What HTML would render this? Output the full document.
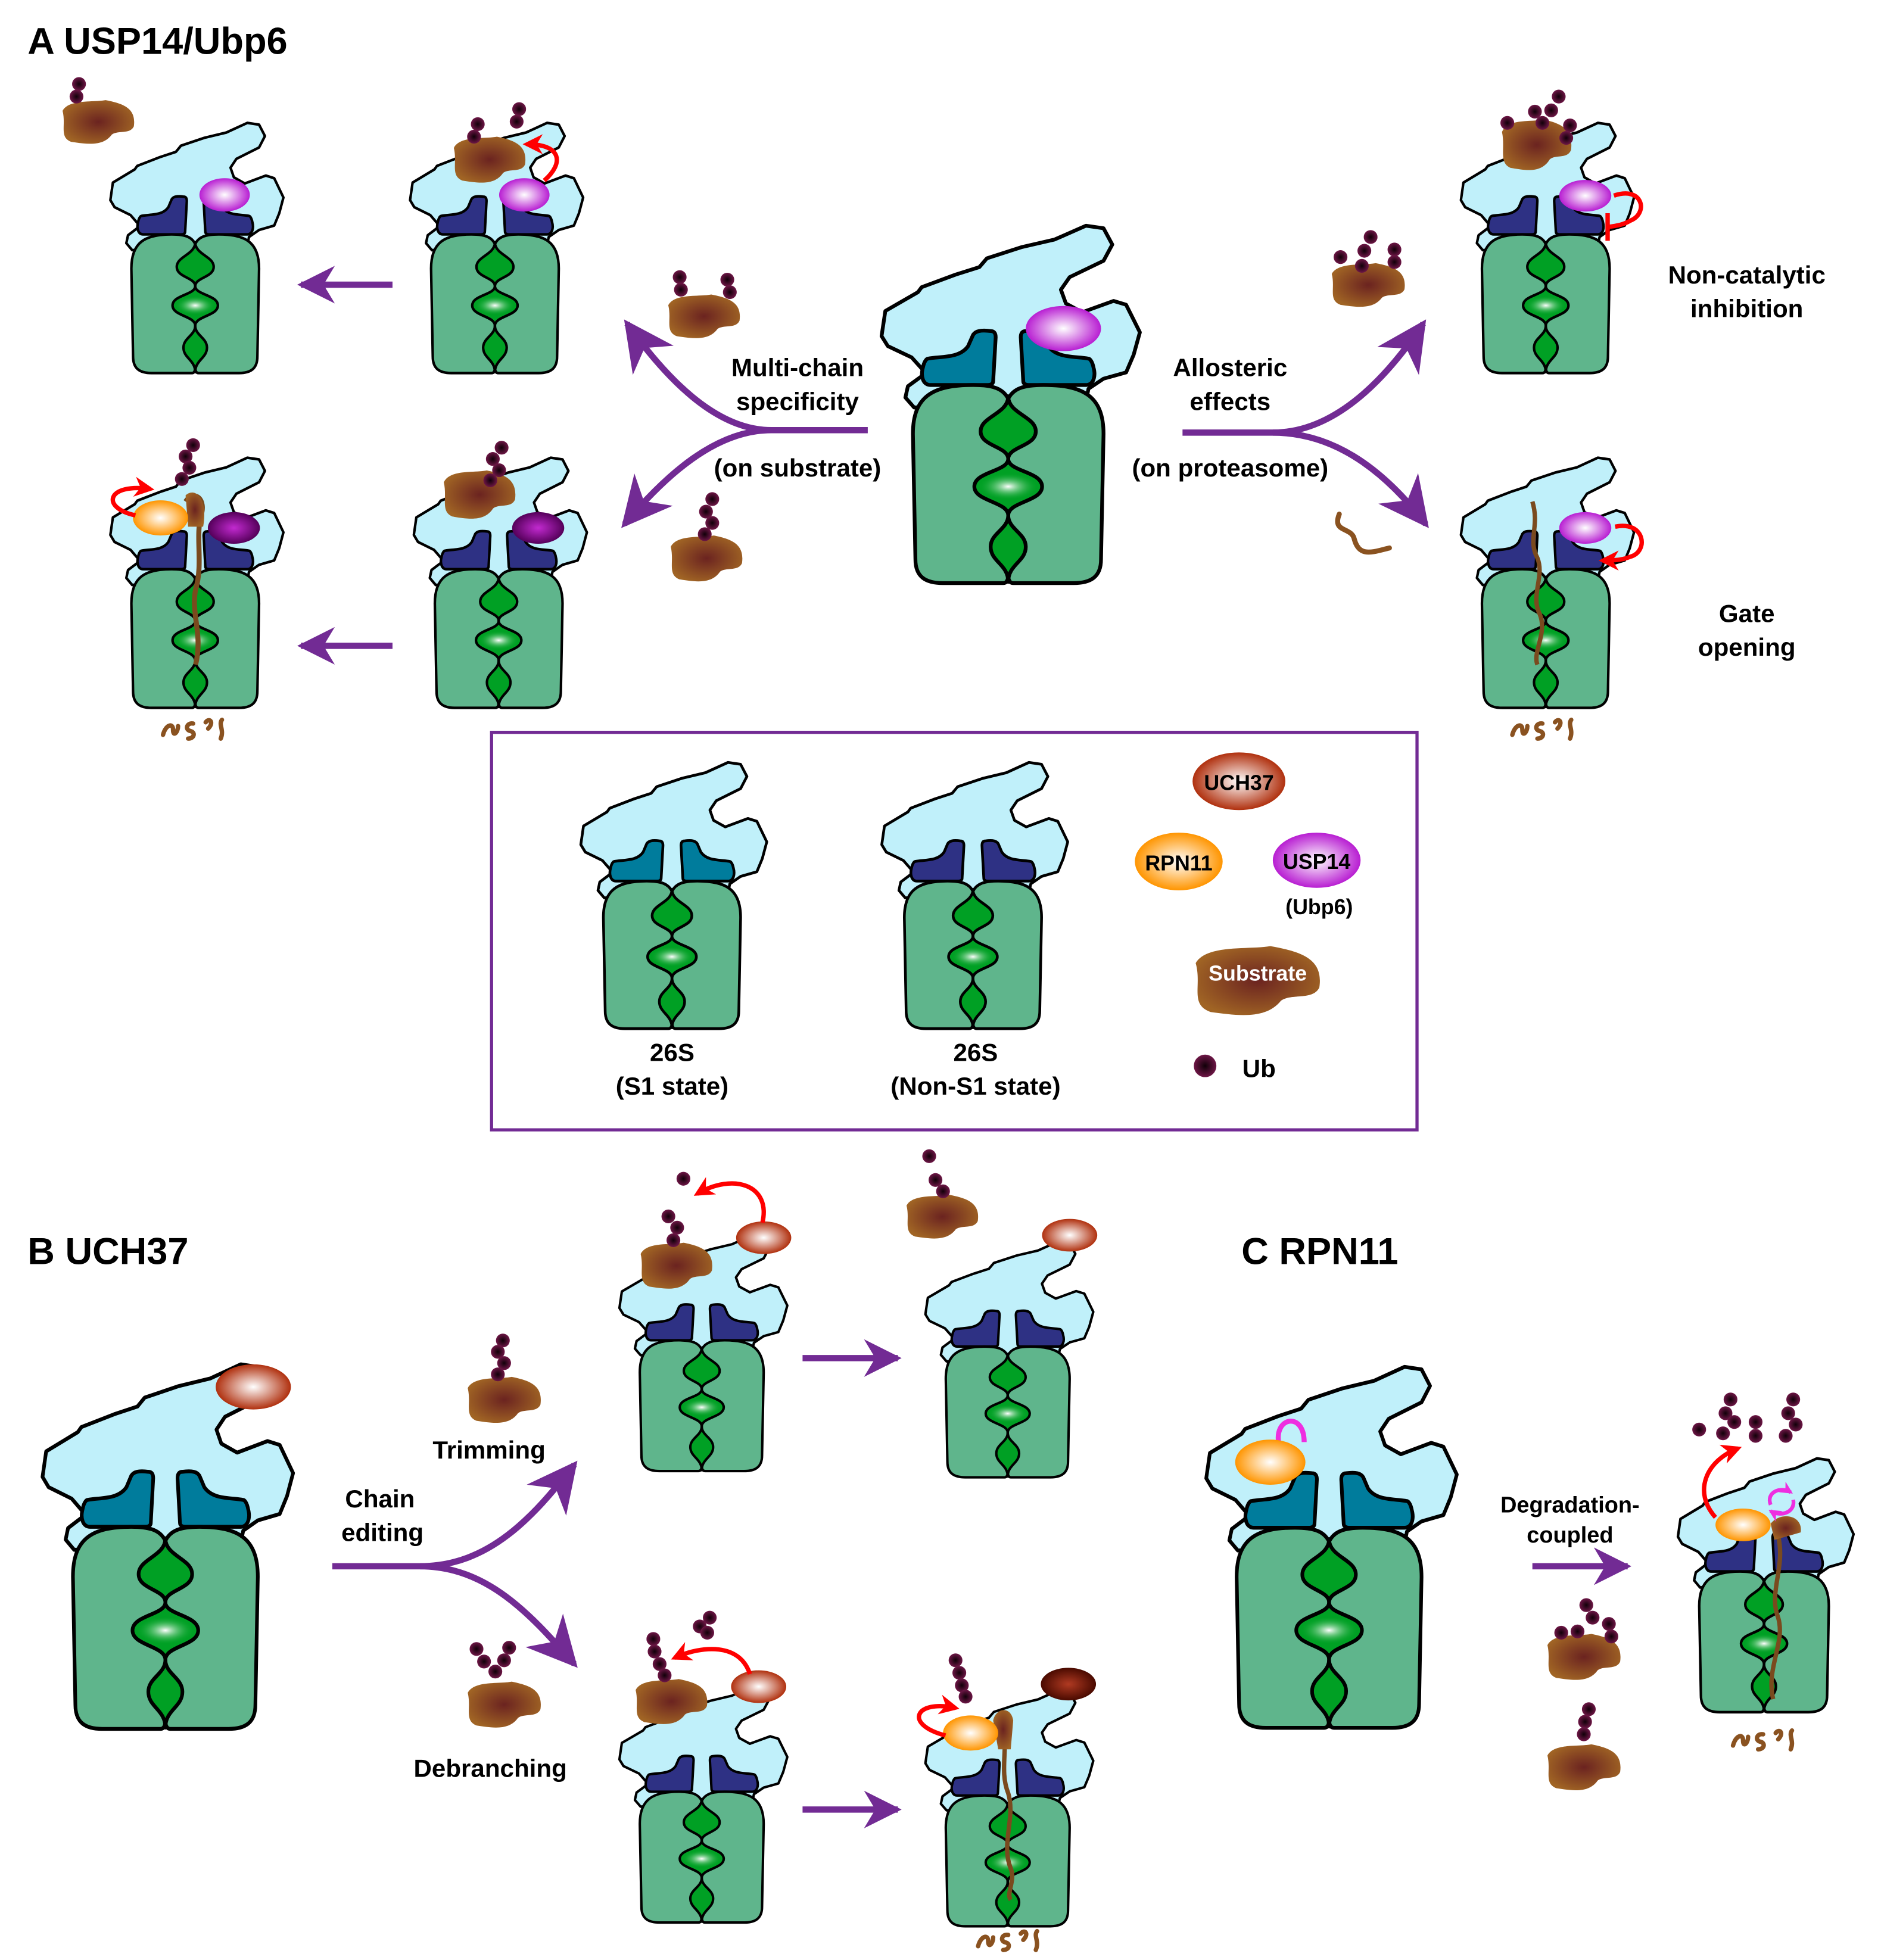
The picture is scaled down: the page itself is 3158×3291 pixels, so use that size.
<!DOCTYPE html>
<html><head><meta charset="utf-8"><style>
html,body{margin:0;padding:0;background:#fff}
svg{display:block}
text{font-family:"Liberation Sans",Arial,sans-serif;font-weight:bold;fill:#000}
</style></head><body>
<svg xmlns="http://www.w3.org/2000/svg" xmlns:xlink="http://www.w3.org/1999/xlink" width="3158" height="3291" viewBox="0 0 1500 1563" preserveAspectRatio="none">
<defs>
<radialGradient id="gSub" cx="50%" cy="50%" r="55%"><stop offset="0" stop-color="#6b2320"/><stop offset="1" stop-color="#a06424"/></radialGradient>
<radialGradient id="gUb" cx="50%" cy="50%" r="50%"><stop offset="0" stop-color="#100008"/><stop offset="1" stop-color="#6e1646"/></radialGradient>
<radialGradient id="gUsp" cx="50%" cy="50%" r="50%"><stop offset="0" stop-color="#ffffff"/><stop offset="1" stop-color="#b81ed2"/></radialGradient>
<radialGradient id="gUspD" cx="50%" cy="50%" r="50%"><stop offset="0" stop-color="#c22ad0"/><stop offset="1" stop-color="#55005a"/></radialGradient>
<radialGradient id="gRpn" cx="50%" cy="50%" r="50%"><stop offset="0" stop-color="#ffffff"/><stop offset="1" stop-color="#ff9500"/></radialGradient>
<radialGradient id="gUch" cx="50%" cy="50%" r="50%"><stop offset="0" stop-color="#ffffff"/><stop offset="1" stop-color="#b0300e"/></radialGradient>
<radialGradient id="gUchD" cx="50%" cy="50%" r="50%"><stop offset="0" stop-color="#b03a22"/><stop offset="1" stop-color="#4a0a00"/></radialGradient>
<radialGradient id="gMid" cx="50%" cy="50%" r="50%"><stop offset="0" stop-color="#ffffff"/><stop offset="1" stop-color="#00a024" stop-opacity="0"/></radialGradient>
<marker id="mP" markerUnits="userSpaceOnUse" markerWidth="40" markerHeight="40" viewBox="0 0 10 10" refX="9" refY="5" orient="auto"><path d="M0,0 L10,5 L0,10 L3,5 Z" fill="#722b94"/></marker>
<marker id="mS" markerUnits="userSpaceOnUse" markerWidth="30" markerHeight="30" viewBox="0 0 10 10" refX="9" refY="5" orient="auto"><path d="M0,0 L10,5 L0,10 L3,5 Z" fill="#722b94"/></marker>
<marker id="mR" markerUnits="userSpaceOnUse" markerWidth="16" markerHeight="16" viewBox="0 0 10 10" refX="8" refY="5" orient="auto"><path d="M0,0 L10,5 L0,10 L3,5 Z" fill="#f00"/></marker>
<marker id="mM" markerUnits="userSpaceOnUse" markerWidth="10" markerHeight="10" viewBox="0 0 10 10" refX="8" refY="5" orient="auto"><path d="M0,0 L10,5 L0,10 L3,5 Z" fill="#ee2ee0"/></marker>
<g id="half">
<path d="M104,138 C100,130 92,127 76,127 C44,127 28,136 28,166 L30,266 C30,280 38,285 52,285 L100,285 C103,285 104,282 104,278 Z" fill="#5fb58c" stroke="#000" stroke-width="3" stroke-linejoin="round"/>
</g>
<g id="atp"><path d="M40,106 C50,104 65,106 72,96 L76,87 C78,84 82,83 90,84 C93,84 94,86 94,89 L92,124 C92,126 90,127 88,127 L42,127 C36,127 34,120 36,113 C37,108 39,106 40,106 Z" stroke="#000" stroke-width="3"/></g>
<g id="P">
<path d="M29,145 L22,137 L24,128 L35,120 L36,115 L27,105 L8,96 L3,88 L6,68 L32,53 L35,49 L62,39 L81,33 L87,26 L115,17 L141,11 L166,0 L180,2 L187,15 L180,28 L153,41 L146,51 L150,62 L163,69 L188,60 L198,63 L209,85 L204,103 L198,117 L180,122 L168,130 L166,140 L104,140 Z" fill="#c0f0fa" stroke="#000" stroke-width="3" stroke-linejoin="round"/>
<use href="#atp" xlink:href="#atp"/>
<use href="#atp" xlink:href="#atp" transform="translate(208,0) scale(-1,1)"/>
<use href="#half" xlink:href="#half"/>
<use href="#half" xlink:href="#half" transform="translate(208,0) scale(-1,1)"/>
<path d="M104,136 C104,150 126,152 126,164 C126,176 104,176 104,186 C104,196 131,196 131,208 C131,220 104,220 104,231 C104,242 118,245 118,256 C118,268 104,270 104,284 C104,270 90,268 90,256 C90,245 104,242 104,231 C104,220 77,220 77,208 C77,196 104,196 104,186 C104,176 82,176 82,164 C82,152 104,150 104,136 Z" fill="#00a024" stroke="#000" stroke-width="3" stroke-linejoin="round"/>
<ellipse cx="104" cy="208" rx="24" ry="11" fill="url(#gMid)"/>
</g>
<path id="blob" d="M5,12 C10,2 30,5 40,3 C55,6 65,10 63,25 C60,32 50,28 45,32 C38,42 25,40 12,38 C2,34 8,24 5,12 Z" fill="url(#gSub)"/>
<g id="frag" fill="none" stroke="#8a5220" stroke-width="3.5" stroke-linecap="round">
<path d="M0,14 C2,6 8,4 8,10 C8,16 12,12 12,7"/><path d="M24,5 C19,4 17,10 22,11 C26,12 25,17 20,17"/><path d="M34,4 C37,0 41,4 36,9"/><path d="M47,2 C44,6 49,10 46,17"/>
</g>
<circle id="ub" r="5.5" fill="url(#gUb)"/>
</defs>

<text x="22" y="43" font-size="30">A USP14/Ubp6</text>

<use href="#blob" xlink:href="#blob" transform="translate(45,77) scale(.98,.95)"/>
<use href="#ub" xlink:href="#ub" x="63" y="67"/><use href="#ub" xlink:href="#ub" x="61" y="77"/>
<g transform="translate(86,98) scale(.67,.70)" fill="#2e3184"><use href="#P" xlink:href="#P"/><ellipse cx="139" cy="82" rx="30" ry="19" fill="url(#gUsp)"/></g>

<g transform="translate(325,98) scale(.67,.70)" fill="#2e3184"><use href="#P" xlink:href="#P"/><ellipse cx="139" cy="82" rx="30" ry="19" fill="url(#gUsp)"/></g>
<use href="#blob" xlink:href="#blob" transform="translate(357,106) scale(.98,1)"/>
<use href="#ub" xlink:href="#ub" x="381" y="99"/><use href="#ub" xlink:href="#ub" x="378" y="109"/>
<use href="#ub" xlink:href="#ub" x="414" y="87"/><use href="#ub" xlink:href="#ub" x="412" y="97"/>
<path d="M434,144 C450,130 448,115 420,115" fill="none" stroke="#f00" stroke-width="3.5" marker-end="url(#mR)"/>

<path d="M313,227 L240,227" stroke="#722b94" stroke-width="5" marker-end="url(#mS)"/>
<path d="M313,515 L240,515" stroke="#722b94" stroke-width="5" marker-end="url(#mS)"/>

<g transform="translate(86,365) scale(.67,.70)" fill="#2e3184"><use href="#P" xlink:href="#P"/><ellipse cx="150" cy="80" rx="31" ry="18" fill="url(#gUspD)"/></g>
<path d="M148,400 C155,390 165,398 160,412 C156,430 162,450 156,470 C152,490 162,505 156,530" fill="none" stroke="#7a4a1e" stroke-width="4"/>
<path d="M148,395 C156,388 166,398 162,420 L150,420 Z" fill="url(#gSub)"/>
<ellipse cx="128" cy="413" rx="22" ry="14" fill="url(#gRpn)"/>
<path d="M108,411 C80,405 85,385 120,390" fill="none" stroke="#f00" stroke-width="3.5" marker-end="url(#mR)"/>
<use href="#ub" xlink:href="#ub" x="154" y="355"/><use href="#ub" xlink:href="#ub" x="148" y="364"/><use href="#ub" xlink:href="#ub" x="151" y="373"/><use href="#ub" xlink:href="#ub" x="145" y="382"/>
<use href="#frag" xlink:href="#frag" transform="translate(130,572)"/>

<g transform="translate(328,365) scale(.67,.70)" fill="#2e3184"><use href="#P" xlink:href="#P"/><ellipse cx="151" cy="80" rx="31" ry="18" fill="url(#gUspD)"/></g>
<use href="#blob" xlink:href="#blob" transform="translate(349,372) scale(.98,1.05)"/>
<use href="#ub" xlink:href="#ub" x="400" y="357"/><use href="#ub" xlink:href="#ub" x="393" y="366"/><use href="#ub" xlink:href="#ub" x="398" y="375"/><use href="#ub" xlink:href="#ub" x="391" y="383"/>

<g transform="translate(700,180)" fill="#007c9c"><use href="#P" xlink:href="#P"/><ellipse cx="148" cy="82" rx="30" ry="18" fill="url(#gUsp)"/></g>

<path d="M692,343 L615,343 C570,343 530,300 500,258" fill="none" stroke="#722b94" stroke-width="5" marker-end="url(#mP)"/>
<path d="M615,343 C570,343 530,380 498,418" fill="none" stroke="#722b94" stroke-width="5" marker-end="url(#mP)"/>
<text x="636" y="300" font-size="20" text-anchor="middle">Multi-chain</text>
<text x="636" y="327" font-size="20" text-anchor="middle">specificity</text>
<text x="636" y="380" font-size="20" text-anchor="middle">(on substrate)</text>
<use href="#blob" xlink:href="#blob" transform="translate(528,232) scale(.98,.95)"/>
<use href="#ub" xlink:href="#ub" x="542" y="221"/><use href="#ub" xlink:href="#ub" x="543" y="231"/><use href="#ub" xlink:href="#ub" x="580" y="223"/><use href="#ub" xlink:href="#ub" x="582" y="233"/>
<use href="#blob" xlink:href="#blob" transform="translate(530,424) scale(.98,1)"/>
<use href="#ub" xlink:href="#ub" x="568" y="398"/><use href="#ub" xlink:href="#ub" x="563" y="408"/><use href="#ub" xlink:href="#ub" x="568" y="417"/><use href="#ub" xlink:href="#ub" x="562" y="426"/>

<path d="M943,345 L1015,345 C1060,345 1100,310 1135,258" fill="none" stroke="#722b94" stroke-width="5" marker-end="url(#mP)"/>
<path d="M1015,345 C1060,345 1100,370 1137,418" fill="none" stroke="#722b94" stroke-width="5" marker-end="url(#mP)"/>
<text x="981" y="300" font-size="20" text-anchor="middle">Allosteric</text>
<text x="981" y="327" font-size="20" text-anchor="middle">effects</text>
<text x="981" y="380" font-size="20" text-anchor="middle">(on proteasome)</text>
<use href="#blob" xlink:href="#blob" transform="translate(1057,207) scale(1,.95)"/>
<use href="#ub" xlink:href="#ub" x="1069" y="205"/><use href="#ub" xlink:href="#ub" x="1086" y="212"/><use href="#ub" xlink:href="#ub" x="1088" y="200"/><use href="#ub" xlink:href="#ub" x="1093" y="189"/><use href="#ub" xlink:href="#ub" x="1112" y="199"/><use href="#ub" xlink:href="#ub" x="1112" y="209"/>
<path d="M1068,410 C1062,425 1078,420 1080,430 C1084,445 1095,440 1108,437" fill="none" stroke="#8a5220" stroke-width="4" stroke-linecap="round"/>

<g transform="translate(1163,98) scale(.67,.70)" fill="#2e3184"><use href="#P" xlink:href="#P"/><ellipse cx="151" cy="83" rx="31" ry="18" fill="url(#gUsp)"/></g>
<use href="#blob" xlink:href="#blob" transform="translate(1193,92) scale(.95,1.1)"/>
<use href="#ub" xlink:href="#ub" x="1202" y="98"/><use href="#ub" xlink:href="#ub" x="1224" y="89"/><use href="#ub" xlink:href="#ub" x="1243" y="77"/><use href="#ub" xlink:href="#ub" x="1237" y="88"/><use href="#ub" xlink:href="#ub" x="1230" y="98"/><use href="#ub" xlink:href="#ub" x="1252" y="100"/><use href="#ub" xlink:href="#ub" x="1249" y="110"/>
<path d="M1287,156 C1310,148 1315,170 1300,176 C1295,179 1290,180 1282,181" fill="none" stroke="#f00" stroke-width="3.5"/>
<path d="M1282,170 L1282,192" stroke="#f00" stroke-width="3.5"/>
<text x="1393" y="226" font-size="20" text-anchor="middle">Non-catalytic</text>
<text x="1393" y="253" font-size="20" text-anchor="middle">inhibition</text>

<g transform="translate(1163,365) scale(.67,.70)" fill="#2e3184"><use href="#P" xlink:href="#P"/><ellipse cx="151" cy="80" rx="31" ry="18" fill="url(#gUsp)"/></g>
<path d="M1222,400 C1228,420 1218,430 1226,445 C1232,460 1220,475 1228,490 C1234,505 1222,520 1226,530" fill="none" stroke="#7a4a1e" stroke-width="3.5"/>
<path d="M1288,420 C1312,415 1315,440 1300,444 C1295,446 1290,447 1278,447" fill="none" stroke="#f00" stroke-width="3.5" marker-end="url(#mR)"/>
<use href="#frag" xlink:href="#frag" transform="translate(1206,572)"/>
<text x="1393" y="496" font-size="20" text-anchor="middle">Gate</text>
<text x="1393" y="523" font-size="20" text-anchor="middle">opening</text>

<rect x="392" y="584" width="738" height="317" fill="none" stroke="#722b94" stroke-width="2.5"/>
<g transform="translate(461,608) scale(.72,.745)" fill="#007c9c"><use href="#P" xlink:href="#P"/></g>
<g transform="translate(701,608) scale(.72,.745)" fill="#2e3184"><use href="#P" xlink:href="#P"/></g>
<text x="536" y="846" font-size="20" text-anchor="middle">26S</text>
<text x="536" y="873" font-size="20" text-anchor="middle">(S1 state)</text>
<text x="778" y="846" font-size="20" text-anchor="middle">26S</text>
<text x="778" y="873" font-size="20" text-anchor="middle">(Non-S1 state)</text>
<ellipse cx="988" cy="623" rx="37" ry="23" fill="url(#gUch)"/>
<text x="988" y="630" font-size="17" text-anchor="middle">UCH37</text>
<ellipse cx="940" cy="687" rx="35" ry="23" fill="url(#gRpn)"/>
<text x="940" y="694" font-size="17" text-anchor="middle">RPN11</text>
<ellipse cx="1050" cy="686" rx="35" ry="22" fill="url(#gUsp)"/>
<text x="1050" y="693" font-size="17" text-anchor="middle">USP14</text>
<text x="1052" y="729" font-size="17" text-anchor="middle">(Ubp6)</text>
<use href="#blob" xlink:href="#blob" transform="translate(945,750) scale(1.7,1.5)"/>
<text x="1003" y="782" font-size="17" text-anchor="middle" style="fill:#fff">Substrate</text>
<circle cx="961" cy="850" r="9" fill="url(#gUb)"/>
<text x="1004" y="859" font-size="20" text-anchor="middle">Ub</text>

<text x="22" y="1008" font-size="30">B UCH37</text>
<g transform="translate(31,1088) scale(.97,1.02)" fill="#007c9c"><use href="#P" xlink:href="#P"/></g>
<ellipse cx="202" cy="1106" rx="30" ry="18" fill="url(#gUch)"/>
<path d="M265,1249 L335,1249 C390,1249 425,1210 458,1168" fill="none" stroke="#722b94" stroke-width="5" marker-end="url(#mP)"/>
<path d="M335,1249 C390,1249 425,1290 458,1327" fill="none" stroke="#722b94" stroke-width="5" marker-end="url(#mP)"/>
<text x="303" y="1202" font-size="20" text-anchor="middle">Chain</text>
<text x="305" y="1229" font-size="20" text-anchor="middle">editing</text>
<text x="390" y="1163" font-size="20" text-anchor="middle">Trimming</text>
<text x="391" y="1417" font-size="20" text-anchor="middle">Debranching</text>
<use href="#blob" xlink:href="#blob" transform="translate(368,1095) scale(1,1)"/>
<use href="#ub" xlink:href="#ub" x="401" y="1069"/><use href="#ub" xlink:href="#ub" x="397" y="1078"/><use href="#ub" xlink:href="#ub" x="402" y="1087"/><use href="#ub" xlink:href="#ub" x="397" y="1096"/>
<use href="#blob" xlink:href="#blob" transform="translate(368,1338) scale(1,1)"/>
<use href="#ub" xlink:href="#ub" x="380" y="1315"/><use href="#ub" xlink:href="#ub" x="386" y="1325"/><use href="#ub" xlink:href="#ub" x="395" y="1333"/><use href="#ub" xlink:href="#ub" x="402" y="1324"/><use href="#ub" xlink:href="#ub" x="406" y="1314"/>

<g transform="translate(492,985) scale(.65,.66)" fill="#2e3184"><use href="#P" xlink:href="#P"/></g>
<ellipse cx="609" cy="987" rx="22" ry="13" fill="url(#gUch)"/>
<use href="#blob" xlink:href="#blob" transform="translate(506,988) scale(.98,1)"/>
<use href="#ub" xlink:href="#ub" x="533" y="970"/><use href="#ub" xlink:href="#ub" x="540" y="979"/><use href="#ub" xlink:href="#ub" x="537" y="989"/>
<use href="#ub" xlink:href="#ub" x="545" y="940"/>
<path d="M608,975 C615,945 585,935 556,952" fill="none" stroke="#f00" stroke-width="3.5" marker-end="url(#mR)"/>
<path d="M640,1083 L716,1083" stroke="#722b94" stroke-width="5" marker-end="url(#mS)"/>

<g transform="translate(736,990) scale(.65,.66)" fill="#2e3184"><use href="#P" xlink:href="#P"/></g>
<ellipse cx="853" cy="985" rx="22" ry="13" fill="url(#gUch)"/>
<use href="#blob" xlink:href="#blob" transform="translate(718,950) scale(.98,.95)"/>
<use href="#ub" xlink:href="#ub" x="741" y="922"/><use href="#ub" xlink:href="#ub" x="746" y="941"/><use href="#ub" xlink:href="#ub" x="752" y="950"/>

<g transform="translate(492,1345) scale(.65,.66)" fill="#2e3184"><use href="#P" xlink:href="#P"/></g>
<ellipse cx="605" cy="1345" rx="22" ry="13" fill="url(#gUch)"/>
<use href="#blob" xlink:href="#blob" transform="translate(502,1336) scale(.98,.98)"/>
<use href="#ub" xlink:href="#ub" x="521" y="1307"/><use href="#ub" xlink:href="#ub" x="522" y="1317"/><use href="#ub" xlink:href="#ub" x="526" y="1327"/><use href="#ub" xlink:href="#ub" x="530" y="1336"/>
<use href="#ub" xlink:href="#ub" x="566" y="1290"/><use href="#ub" xlink:href="#ub" x="558" y="1297"/><use href="#ub" xlink:href="#ub" x="564" y="1302"/>
<path d="M598,1335 C590,1310 560,1312 538,1322" fill="none" stroke="#f00" stroke-width="3.5" marker-end="url(#mR)"/>
<path d="M640,1443 L716,1443" stroke="#722b94" stroke-width="5" marker-end="url(#mS)"/>

<g transform="translate(736,1348) scale(.65,.66)" fill="#2e3184"><use href="#P" xlink:href="#P"/></g>
<path d="M798,1368 C806,1390 796,1410 804,1430 C810,1450 798,1470 806,1490 C810,1500 802,1510 806,1515" fill="none" stroke="#7a4a1e" stroke-width="3.5"/>
<path d="M792,1372 C794,1362 806,1360 808,1372 L806,1395 L796,1395 Z" fill="url(#gSub)"/>
<ellipse cx="852" cy="1343" rx="22" ry="13" fill="url(#gUchD)"/>
<ellipse cx="774" cy="1382" rx="22" ry="14" fill="url(#gRpn)"/>
<path d="M754,1384 C720,1375 730,1355 762,1362" fill="none" stroke="#f00" stroke-width="3.5" marker-end="url(#mR)"/>
<use href="#ub" xlink:href="#ub" x="762" y="1324"/><use href="#ub" xlink:href="#ub" x="765" y="1334"/><use href="#ub" xlink:href="#ub" x="767" y="1344"/><use href="#ub" xlink:href="#ub" x="770" y="1353"/>
<use href="#frag" xlink:href="#frag" transform="translate(780,1538)"/>

<text x="990" y="1008" font-size="30">C RPN11</text>
<g transform="translate(959,1090) scale(.97,1.01)" fill="#007c9c"><use href="#P" xlink:href="#P"/></g>
<path d="M1020,1152 C1015,1130 1040,1125 1040,1150" fill="none" stroke="#ee2ee0" stroke-width="4"/>
<ellipse cx="1013" cy="1166" rx="28" ry="18" fill="url(#gRpn)"/>
<path d="M1222,1249 L1298,1249" stroke="#722b94" stroke-width="5" marker-end="url(#mS)"/>
<text x="1252" y="1206" font-size="18" text-anchor="middle">Degradation-</text>
<text x="1252" y="1230" font-size="18" text-anchor="middle">coupled</text>
<use href="#blob" xlink:href="#blob" transform="translate(1229,1300) scale(1,1)"/>
<use href="#ub" xlink:href="#ub" x="1265" y="1280"/><use href="#ub" xlink:href="#ub" x="1270" y="1290"/><use href="#ub" xlink:href="#ub" x="1258" y="1301"/><use href="#ub" xlink:href="#ub" x="1245" y="1302"/><use href="#ub" xlink:href="#ub" x="1283" y="1295"/><use href="#ub" xlink:href="#ub" x="1285" y="1305"/>
<use href="#blob" xlink:href="#blob" transform="translate(1229,1388) scale(1,1)"/>
<use href="#ub" xlink:href="#ub" x="1267" y="1363"/><use href="#ub" xlink:href="#ub" x="1264" y="1373"/><use href="#ub" xlink:href="#ub" x="1263" y="1383"/>

<g transform="translate(1336,1163) scale(.68,.71)" fill="#2e3184"><use href="#P" xlink:href="#P"/></g>
<path d="M1418,1225 C1424,1250 1410,1270 1418,1290 C1424,1310 1408,1330 1414,1355" fill="none" stroke="#7a4a1e" stroke-width="3.5"/>
<path d="M1412,1215 C1420,1205 1438,1208 1436,1222 L1415,1228 Z" fill="url(#gSub)"/>
<ellipse cx="1390" cy="1216" rx="22" ry="13" fill="url(#gRpn)"/>
<path d="M1412,1200 C1408,1190 1420,1185 1428,1190" fill="none" stroke="#ee2ee0" stroke-width="3" marker-end="url(#mM)"/>
<path d="M1430,1196 C1432,1206 1420,1210 1412,1205" fill="none" stroke="#ee2ee0" stroke-width="3" marker-end="url(#mM)"/>
<path d="M1368,1210 C1350,1190 1360,1165 1386,1155" fill="none" stroke="#f00" stroke-width="3.5" marker-end="url(#mR)"/>
<use href="#ub" xlink:href="#ub" x="1355" y="1140"/>
<use href="#ub" xlink:href="#ub" x="1380" y="1116"/><use href="#ub" xlink:href="#ub" x="1376" y="1127"/><use href="#ub" xlink:href="#ub" x="1383" y="1134"/><use href="#ub" xlink:href="#ub" x="1374" y="1143"/>
<use href="#ub" xlink:href="#ub" x="1400" y="1134"/><use href="#ub" xlink:href="#ub" x="1400" y="1145"/>
<use href="#ub" xlink:href="#ub" x="1430" y="1116"/><use href="#ub" xlink:href="#ub" x="1426" y="1127"/><use href="#ub" xlink:href="#ub" x="1432" y="1136"/><use href="#ub" xlink:href="#ub" x="1424" y="1145"/>
<use href="#frag" xlink:href="#frag" transform="translate(1382,1378)"/>
</svg>
</body></html>
